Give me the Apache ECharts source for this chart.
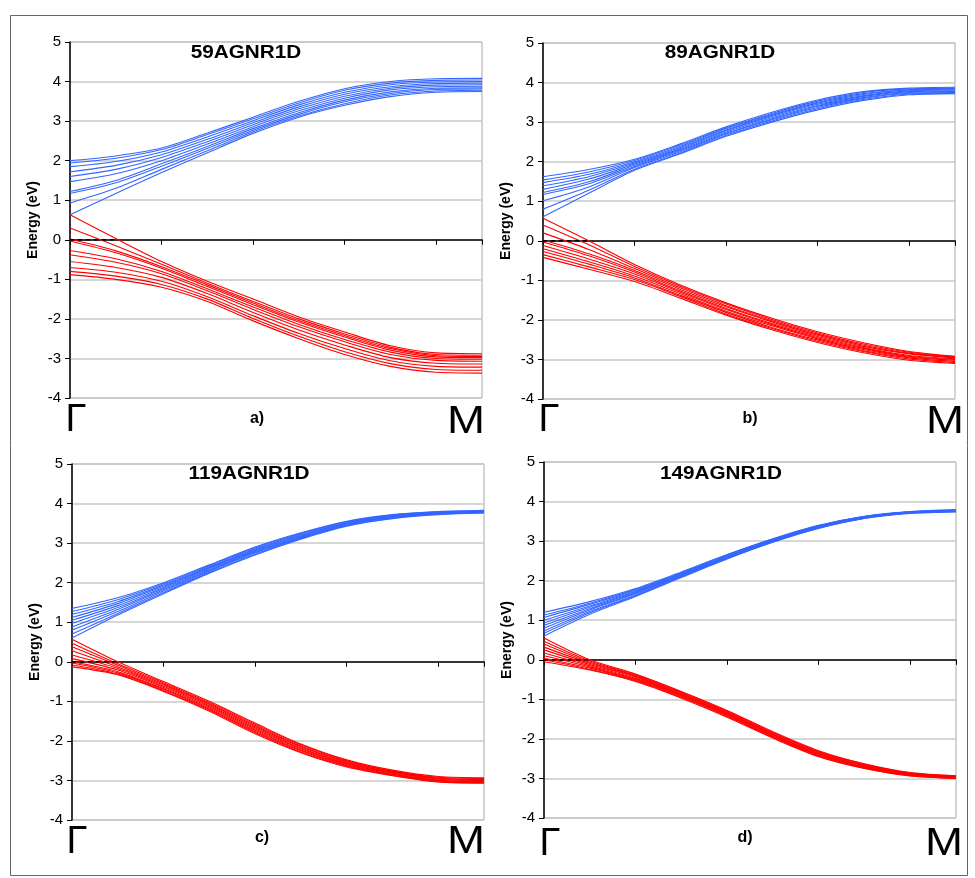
<!DOCTYPE html>
<html>
<head>
<meta charset="utf-8">
<script src="https://cdn.jsdelivr.net/npm/echarts@6/dist/echarts.min.js"></script>
<style>
html,body{margin:0;padding:0;background:#fff;}
#chart{width:975px;height:878px;}
</style>
</head>
<body>
<div id="chart"></div>
<script>
// k-path sample positions from Γ (0) to M (45)
var kPoints = [0, 5, 10, 15, 20, 25, 30, 35, 40, 45];
var yTicks = [-4, -3, -2, -1, 0, 1, 2, 3, 4, 5];
var panelTitles = ['59AGNR1D', '89AGNR1D', '119AGNR1D', '149AGNR1D'];
var panelLetters = ['a)', 'b)', 'c)', 'd)'];
var pathLabels = ['Γ', 'M'];
var fermiMarkK = [0, 5];

// Panel a) 59AGNR1D
var cond59 = [
  [2.00, 2.12, 2.32, 2.70, 3.10, 3.50, 3.82, 4.00, 4.07, 4.08],
  [1.94, 2.06, 2.28, 2.66, 3.06, 3.46, 3.78, 3.96, 4.03, 4.04],
  [1.85, 1.98, 2.22, 2.60, 3.01, 3.41, 3.73, 3.92, 3.99, 4.00],
  [1.72, 1.88, 2.15, 2.54, 2.96, 3.36, 3.68, 3.87, 3.95, 3.96],
  [1.60, 1.78, 2.08, 2.48, 2.91, 3.31, 3.63, 3.83, 3.91, 3.92],
  [1.47, 1.67, 2.00, 2.42, 2.86, 3.26, 3.58, 3.79, 3.87, 3.88],
  [1.22, 1.50, 1.92, 2.36, 2.81, 3.21, 3.53, 3.74, 3.83, 3.84],
  [1.17, 1.44, 1.86, 2.31, 2.77, 3.17, 3.49, 3.70, 3.80, 3.81],
  [0.93, 1.30, 1.78, 2.25, 2.73, 3.13, 3.44, 3.66, 3.76, 3.78],
  [0.63, 1.17, 1.70, 2.20, 2.69, 3.10, 3.40, 3.62, 3.73, 3.75]
];
var val59 = [
  [0.63, 0.03, -0.55, -1.05, -1.50, -1.95, -2.33, -2.68, -2.86, -2.88],
  [0.30, -0.15, -0.62, -1.10, -1.56, -2.00, -2.38, -2.72, -2.90, -2.92],
  [0.02, -0.28, -0.68, -1.14, -1.60, -2.04, -2.42, -2.75, -2.93, -2.95],
  [-0.03, -0.33, -0.72, -1.18, -1.64, -2.08, -2.46, -2.79, -2.96, -2.98],
  [-0.27, -0.48, -0.80, -1.24, -1.70, -2.14, -2.52, -2.84, -3.00, -3.02],
  [-0.38, -0.57, -0.86, -1.29, -1.76, -2.20, -2.58, -2.90, -3.05, -3.07],
  [-0.55, -0.70, -0.95, -1.36, -1.84, -2.28, -2.66, -2.98, -3.12, -3.14],
  [-0.70, -0.82, -1.05, -1.44, -1.92, -2.37, -2.75, -3.06, -3.20, -3.22],
  [-0.80, -0.92, -1.13, -1.50, -1.99, -2.44, -2.83, -3.13, -3.28, -3.30],
  [-0.88, -1.00, -1.20, -1.56, -2.05, -2.50, -2.90, -3.20, -3.35, -3.37]
];

// Panel b) 89AGNR1D
var cond89 = [
  [1.62, 1.80, 2.06, 2.45, 2.88, 3.25, 3.56, 3.77, 3.86, 3.88],
  [1.54, 1.74, 2.03, 2.42, 2.85, 3.22, 3.53, 3.75, 3.84, 3.86],
  [1.47, 1.68, 2.00, 2.39, 2.83, 3.19, 3.50, 3.72, 3.82, 3.85],
  [1.39, 1.62, 1.97, 2.36, 2.80, 3.17, 3.48, 3.70, 3.81, 3.83],
  [1.30, 1.56, 1.94, 2.33, 2.78, 3.14, 3.45, 3.67, 3.79, 3.81],
  [1.22, 1.49, 1.91, 2.30, 2.75, 3.11, 3.42, 3.65, 3.77, 3.79],
  [1.17, 1.44, 1.88, 2.28, 2.72, 3.08, 3.40, 3.62, 3.75, 3.77],
  [1.01, 1.36, 1.85, 2.25, 2.70, 3.06, 3.37, 3.60, 3.73, 3.75],
  [0.80, 1.28, 1.81, 2.22, 2.67, 3.03, 3.34, 3.57, 3.71, 3.73],
  [0.61, 1.20, 1.78, 2.20, 2.64, 3.00, 3.31, 3.55, 3.69, 3.72]
];
var val89 = [
  [0.57, 0.00, -0.60, -1.12, -1.57, -1.96, -2.30, -2.58, -2.80, -2.92],
  [0.40, -0.10, -0.65, -1.15, -1.60, -1.99, -2.33, -2.61, -2.82, -2.93],
  [0.20, -0.22, -0.70, -1.19, -1.64, -2.02, -2.36, -2.64, -2.84, -2.94],
  [0.02, -0.33, -0.75, -1.23, -1.67, -2.05, -2.39, -2.67, -2.86, -2.96],
  [-0.03, -0.38, -0.79, -1.27, -1.71, -2.09, -2.42, -2.70, -2.90, -2.98],
  [-0.12, -0.46, -0.84, -1.30, -1.74, -2.12, -2.45, -2.72, -2.92, -3.00],
  [-0.20, -0.53, -0.89, -1.34, -1.78, -2.15, -2.48, -2.75, -2.94, -3.02],
  [-0.27, -0.59, -0.94, -1.38, -1.81, -2.19, -2.51, -2.78, -2.96, -3.05],
  [-0.35, -0.66, -0.98, -1.41, -1.85, -2.22, -2.54, -2.80, -2.99, -3.08],
  [-0.42, -0.72, -1.03, -1.45, -1.88, -2.25, -2.57, -2.83, -3.02, -3.10]
];

// Panel c) 119AGNR1D
var cond119 = [
  [1.35, 1.62, 2.00, 2.45, 2.90, 3.26, 3.55, 3.72, 3.80, 3.83],
  [1.27, 1.57, 1.97, 2.43, 2.88, 3.24, 3.54, 3.71, 3.79, 3.82],
  [1.20, 1.52, 1.94, 2.40, 2.85, 3.22, 3.52, 3.70, 3.78, 3.81],
  [1.12, 1.47, 1.91, 2.38, 2.83, 3.20, 3.51, 3.69, 3.77, 3.81],
  [1.05, 1.42, 1.88, 2.36, 2.81, 3.18, 3.50, 3.68, 3.77, 3.80],
  [0.97, 1.37, 1.85, 2.33, 2.79, 3.16, 3.48, 3.67, 3.76, 3.79],
  [0.88, 1.32, 1.82, 2.31, 2.77, 3.15, 3.47, 3.66, 3.75, 3.79],
  [0.80, 1.27, 1.79, 2.29, 2.75, 3.13, 3.46, 3.65, 3.74, 3.78],
  [0.70, 1.22, 1.75, 2.26, 2.72, 3.12, 3.44, 3.63, 3.73, 3.77],
  [0.60, 1.18, 1.72, 2.24, 2.70, 3.10, 3.43, 3.62, 3.72, 3.76]
];
var val119 = [
  [0.57, 0.00, -0.50, -1.00, -1.55, -2.08, -2.48, -2.74, -2.90, -2.93],
  [0.47, -0.05, -0.53, -1.03, -1.58, -2.10, -2.50, -2.76, -2.92, -2.95],
  [0.38, -0.09, -0.56, -1.06, -1.61, -2.13, -2.52, -2.77, -2.94, -2.97],
  [0.28, -0.13, -0.59, -1.08, -1.64, -2.15, -2.54, -2.79, -2.95, -2.98],
  [0.17, -0.17, -0.62, -1.11, -1.67, -2.18, -2.56, -2.80, -2.97, -3.00],
  [0.08, -0.21, -0.65, -1.14, -1.70, -2.20, -2.58, -2.82, -2.99, -3.02],
  [0.00, -0.25, -0.68, -1.17, -1.73, -2.23, -2.60, -2.84, -3.00, -3.03],
  [-0.03, -0.28, -0.70, -1.20, -1.76, -2.25, -2.62, -2.85, -3.02, -3.05],
  [-0.08, -0.31, -0.73, -1.22, -1.79, -2.28, -2.64, -2.87, -3.03, -3.06],
  [-0.13, -0.33, -0.75, -1.25, -1.82, -2.30, -2.66, -2.88, -3.04, -3.07]
];

// Panel d) 149AGNR1D
var cond149 = [
  [1.20, 1.47, 1.80, 2.22, 2.66, 3.06, 3.40, 3.63, 3.75, 3.79],
  [1.13, 1.43, 1.78, 2.20, 2.65, 3.05, 3.39, 3.62, 3.74, 3.79],
  [1.07, 1.40, 1.76, 2.19, 2.64, 3.04, 3.38, 3.62, 3.74, 3.78],
  [1.00, 1.36, 1.73, 2.17, 2.62, 3.03, 3.37, 3.61, 3.73, 3.78],
  [0.93, 1.33, 1.71, 2.16, 2.61, 3.02, 3.36, 3.60, 3.73, 3.77],
  [0.87, 1.29, 1.69, 2.14, 2.60, 3.01, 3.36, 3.60, 3.72, 3.77],
  [0.80, 1.26, 1.67, 2.13, 2.59, 3.00, 3.35, 3.59, 3.72, 3.76],
  [0.73, 1.22, 1.64, 2.11, 2.57, 2.99, 3.34, 3.58, 3.71, 3.76],
  [0.67, 1.19, 1.62, 2.10, 2.56, 2.98, 3.33, 3.58, 3.71, 3.75],
  [0.60, 1.15, 1.60, 2.08, 2.55, 2.97, 3.32, 3.57, 3.70, 3.74]
];
var val149 = [
  [0.55, 0.00, -0.36, -0.80, -1.28, -1.82, -2.30, -2.63, -2.85, -2.93],
  [0.47, -0.03, -0.38, -0.82, -1.30, -1.84, -2.32, -2.64, -2.86, -2.94],
  [0.40, -0.06, -0.40, -0.84, -1.32, -1.86, -2.33, -2.66, -2.87, -2.95],
  [0.32, -0.09, -0.42, -0.86, -1.34, -1.88, -2.35, -2.67, -2.88, -2.95],
  [0.25, -0.12, -0.44, -0.88, -1.36, -1.89, -2.37, -2.68, -2.89, -2.96],
  [0.17, -0.15, -0.47, -0.89, -1.37, -1.91, -2.38, -2.70, -2.90, -2.97],
  [0.10, -0.18, -0.49, -0.91, -1.39, -1.93, -2.40, -2.71, -2.91, -2.97],
  [0.04, -0.21, -0.51, -0.93, -1.41, -1.94, -2.42, -2.72, -2.92, -2.98],
  [0.00, -0.24, -0.53, -0.95, -1.43, -1.96, -2.43, -2.74, -2.93, -2.99],
  [-0.05, -0.26, -0.55, -0.97, -1.45, -1.98, -2.45, -2.75, -2.94, -3.00]
];

var panelCond = [cond59, cond89, cond119, cond149];
var panelVal = [val59, val89, val119, val149];

var BLUE = '#3366ff', RED = '#ff0000';
var FONT = 'Liberation Sans, Arial, sans-serif';
var grids = [
  {left: 70, top: 42, width: 412, height: 356},
  {left: 543, top: 43, width: 412, height: 356},
  {left: 72, top: 464, width: 412, height: 356},
  {left: 544, top: 462, width: 412, height: 356}
];

var option = {
  animation: false,
  backgroundColor: '#fff',
  grid: grids.map(function (g) {
    return {left: g.left, top: g.top, width: g.width, height: g.height,
      show: true, borderColor: '#a8a8a8', borderWidth: 1, backgroundColor: 'transparent'};
  }),
  xAxis: grids.map(function (g, i) {
    return {
      gridIndex: i, type: 'value', min: 0, max: 45, interval: 10,
      axisLine: {show: true, onZero: true, lineStyle: {color: '#000', width: 1.5}},
      axisTick: {show: true, inside: false, length: 5, lineStyle: {color: '#000', width: 1}},
      axisLabel: {show: false},
      splitLine: {show: false}
    };
  }),
  yAxis: grids.map(function (g, i) {
    return {
      gridIndex: i, type: 'value', min: yTicks[0], max: yTicks[yTicks.length - 1], interval: 1,
      name: 'Energy (eV)', nameLocation: 'middle', nameGap: 30, nameRotate: 90,
      nameTextStyle: {fontFamily: FONT, fontWeight: 'bold', fontSize: 14, color: '#000'},
      axisLine: {show: true, onZero: false, lineStyle: {color: '#000', width: 1.5}},
      axisTick: {show: true, length: 5, lineStyle: {color: '#000', width: 1}},
      axisLabel: {fontFamily: FONT, fontSize: 15, color: '#000', margin: 9},
      splitLine: {show: true, lineStyle: {color: '#c8c8c8', width: 1.5}}
    };
  }),
  series: [],
  graphic: []
};

function addBand(panel, band, color) {
  option.series.push({
    type: 'line', xAxisIndex: panel, yAxisIndex: panel,
    data: kPoints.map(function (k, j) { return [k, band[j]]; }),
    showSymbol: false, smooth: 0.3, silent: true,
    lineStyle: {color: color, width: 1.1}
  });
}
for (var p = 0; p < 4; p++) {
  panelCond[p].forEach(function (b) { addBand(p, b, BLUE); });
  panelVal[p].forEach(function (b) { addBand(p, b, RED); });
  option.series.push({
    type: 'line', xAxisIndex: p, yAxisIndex: p,
    data: fermiMarkK.map(function (k) { return [k, 0]; }),
    showSymbol: false, silent: true, z: 5,
    lineStyle: {color: '#000', width: 1.5, type: [4, 4]}
  });
}

// text annotations
var titlePos = [[246, 53], [720, 53], [249, 474], [721, 474]];
var letterPos = [[257, 419], [750, 419], [262, 838], [745, 838]];
var gammaPos = [[76, 421], [549, 421], [77, 843], [550, 845]];
var mPos = [[466, 423], [945, 423], [466, 843], [944, 845]];
var gr = option.graphic;
gr.push({type: 'rect', shape: {x: 10.5, y: 15.5, width: 957, height: 860}, style: {fill: 'none', stroke: '#666', lineWidth: 1}, silent: true, z: 0});
for (var i = 0; i < 4; i++) {
  gr.push({type: 'text', x: titlePos[i][0], y: titlePos[i][1], scaleX: 1.15,
    style: {text: panelTitles[i], font: 'bold 18px ' + FONT, fill: '#000', textAlign: 'center', textVerticalAlign: 'middle'}, z: 10});
  gr.push({type: 'text', x: letterPos[i][0], y: letterPos[i][1],
    style: {text: panelLetters[i], font: 'bold 16px ' + FONT, fill: '#000', textAlign: 'center', textVerticalAlign: 'middle'}, z: 10});
  gr.push({type: 'text', x: gammaPos[i][0], y: gammaPos[i][1],
    style: {text: pathLabels[0], font: '38px ' + FONT, fill: '#000', textAlign: 'center', textVerticalAlign: 'middle'}, z: 10});
  gr.push({type: 'text', x: mPos[i][0], y: mPos[i][1], scaleX: 1.2,
    style: {text: pathLabels[1], font: '38px ' + FONT, fill: '#000', textAlign: 'center', textVerticalAlign: 'middle'}, z: 10});
}

var chart = echarts.init(document.getElementById('chart'), null, {renderer: 'canvas'});
chart.setOption(option);
</script>
</body>
</html>
